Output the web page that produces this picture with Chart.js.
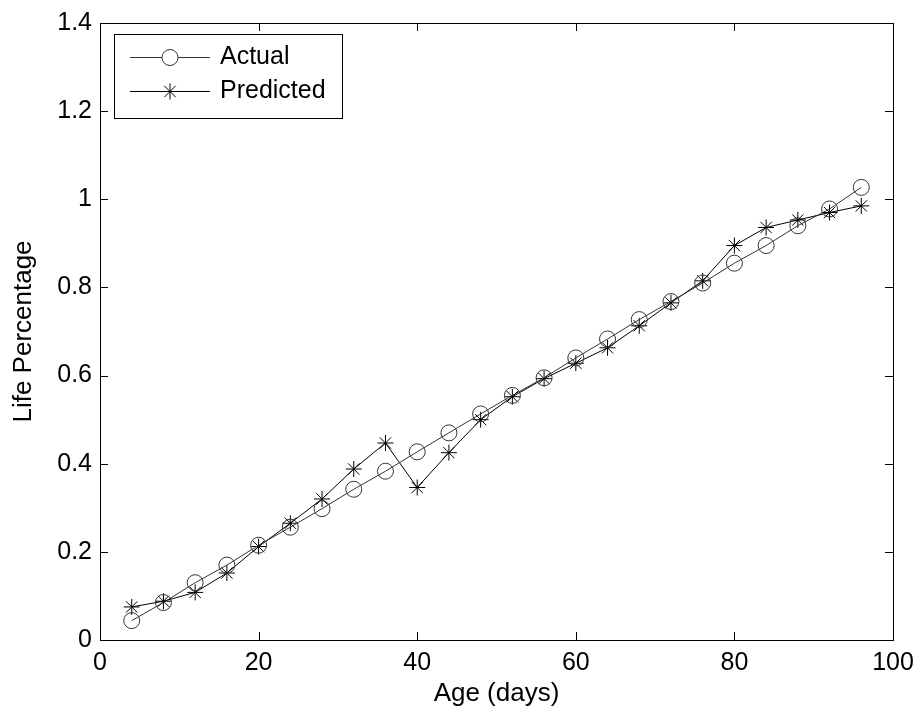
<!DOCTYPE html>
<html>
<head>
<meta charset="utf-8">
<script src="https://cdn.jsdelivr.net/npm/chart.js@4.4.0/dist/chart.umd.min.js"></script>
<style>
  html, body { margin: 0; padding: 0; background: #fff; }
  #wrap { width: 918px; height: 711px; }
</style>
</head>
<body>
<div id="wrap"><canvas id="c" width="918" height="711"></canvas></div>
<script>
// ---------------- Daten ----------------
const ageDays = [4, 8, 12, 16, 20, 24, 28, 32, 36, 40, 44, 48, 52, 56, 60, 64, 68, 72, 76, 80, 84, 88, 92, 96];
const actual = [0.044, 0.085, 0.13, 0.17, 0.215, 0.256, 0.298, 0.342, 0.383, 0.427, 0.47, 0.513, 0.555, 0.595, 0.64, 0.683, 0.727, 0.768, 0.81, 0.855, 0.895, 0.94, 0.978, 1.027];
const predicted = [0.075, 0.088, 0.108, 0.152, 0.212, 0.265, 0.32, 0.388, 0.447, 0.346, 0.425, 0.5, 0.552, 0.593, 0.628, 0.663, 0.713, 0.765, 0.815, 0.895, 0.936, 0.953, 0.97, 0.985];
const xTicks = [0, 20, 40, 60, 80, 100];
const yTicks = [0, 0.2, 0.4, 0.6, 0.8, 1, 1.2, 1.4];

const FONT = "'Liberation Sans', Arial, sans-serif";

// ---------------- Rahmen, Ticks, Legende ----------------
const framePlugin = {
  id: "frame",
  afterDraw(chart) {
    const { ctx, chartArea: a, scales } = chart;
    ctx.save();
    ctx.strokeStyle = "#000";
    ctx.lineWidth = 1;
    ctx.strokeRect(a.left + 0.5, a.top + 0.5, a.right - a.left, a.bottom - a.top);

    const len = 8;
    ctx.beginPath();
    xTicks.forEach(v => {
      const x = Math.round(scales.x.getPixelForValue(v)) + 0.5;
      ctx.moveTo(x, a.bottom); ctx.lineTo(x, a.bottom - len);
      ctx.moveTo(x, a.top); ctx.lineTo(x, a.top + len);
    });
    yTicks.forEach(v => {
      const y = Math.round(scales.y.getPixelForValue(v)) + 0.5;
      ctx.moveTo(a.left, y); ctx.lineTo(a.left + len, y);
      ctx.moveTo(a.right, y); ctx.lineTo(a.right - len, y);
    });
    ctx.stroke();

    // Legende
    const bx = 114, by = 34, bw = 228, bh = 84;
    ctx.fillStyle = "#fff";
    ctx.fillRect(bx, by, bw, bh);
    ctx.strokeRect(bx + 0.5, by + 0.5, bw, bh);
    const rows = [
      { label: "Actual", y: 57, style: "circle", color: "#333" },
      { label: "Predicted", y: 91, style: "star", color: "#000" }
    ];
    rows.forEach(r => {
      ctx.strokeStyle = r.color;
      ctx.lineWidth = 1;
      ctx.beginPath();
      ctx.moveTo(130, r.y + 0.5); ctx.lineTo(210, r.y + 0.5);
      ctx.stroke();
      Chart.helpers.drawPoint(ctx, { pointStyle: r.style, radius: 8, borderWidth: 1 }, 170, r.y + 0.5);
      ctx.fillStyle = "#000";
      ctx.font = "25px " + FONT;
      ctx.textBaseline = "middle";
      ctx.textAlign = "left";
      ctx.fillText(r.label, 220, r.y);
    });
    ctx.restore();
  }
};

new Chart(document.getElementById("c"), {
  type: "line",
  data: {
    datasets: [
      {
        label: "Actual",
        data: ageDays.map((x, i) => ({ x, y: actual[i] })),
        borderColor: "#333",
        borderWidth: 1,
        pointStyle: "circle",
        pointRadius: 8,
        pointBorderColor: "#333",
        pointBackgroundColor: "rgba(0,0,0,0)",
        pointBorderWidth: 1,
        tension: 0
      },
      {
        label: "Predicted",
        data: ageDays.map((x, i) => ({ x, y: predicted[i] })),
        borderColor: "#000",
        borderWidth: 1,
        pointStyle: "star",
        pointRadius: 8,
        pointBorderColor: "#000",
        pointBorderWidth: 1,
        tension: 0
      }
    ]
  },
  options: {
    responsive: false,
    animation: false,
    layout: { padding: { top: 20, right: 25, left: 0, bottom: 0 } },
    plugins: { legend: { display: false }, tooltip: { enabled: false } },
    scales: {
      x: {
        type: "linear",
        min: 0, max: 100,
        afterBuildTicks: s => { s.ticks = xTicks.map(v => ({ value: v })); },
        afterFit: s => { s.height = 71; s.paddingRight = 0; },
        grid: { display: false, drawTicks: false },
        border: { display: false },
        ticks: { color: "#000", font: { size: 25, family: FONT }, padding: 8, maxRotation: 0 },
        title: { display: true, text: "Age (days)", color: "#000", font: { size: 26, family: FONT }, padding: { top: 0, bottom: 2 } }
      },
      y: {
        min: 0, max: 1.4,
        afterBuildTicks: s => { s.ticks = yTicks.map(v => ({ value: v })); },
        afterFit: s => { s.width = 100; },
        grid: { display: false, drawTicks: false },
        border: { display: false },
        ticks: { color: "#000", font: { size: 25, family: FONT }, padding: 8, callback: v => String(+v.toFixed(1)) },
        title: { display: true, text: "Life Percentage", color: "#000", font: { size: 26, family: FONT }, padding: { top: 8, bottom: 0 } }
      }
    }
  },
  plugins: [framePlugin]
});
</script>
</body>
</html>
